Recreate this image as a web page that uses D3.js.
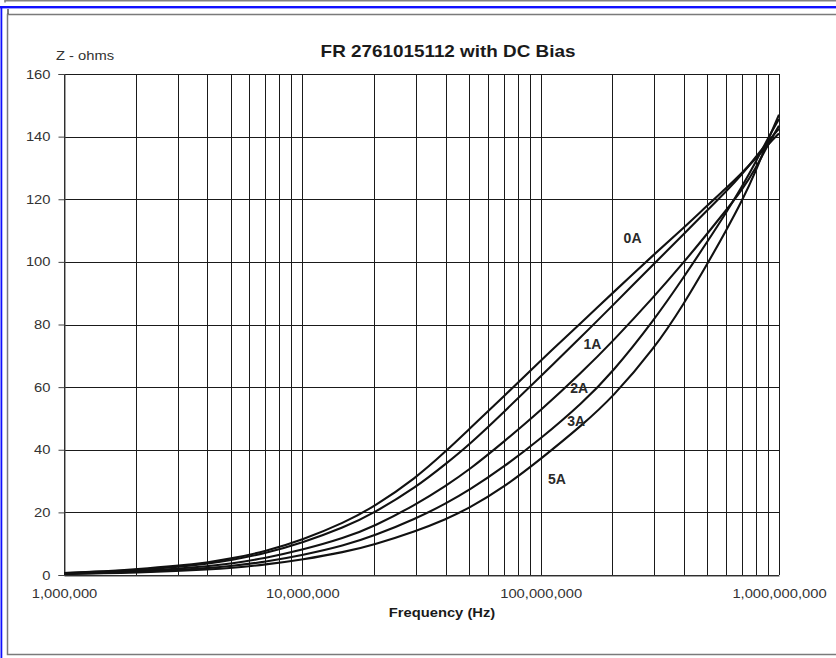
<!DOCTYPE html>
<html>
<head>
<meta charset="utf-8">
<script src="https://cdn.jsdelivr.net/npm/d3@7"></script>
<style>
  body { margin: 0; background: #fff; }
  text { font-family: "Liberation Sans", Arial, sans-serif; }
</style>
</head>
<body>
<div id="chart"></div>
<script>
// frequencies (Hz) the curves were read at
const freqs = [1e6, 1.5e6, 2e6, 3e6, 4e6, 5e6, 7e6, 1e7, 1.5e7, 2e7, 3e7, 4e7, 5e7, 7e7,
               1e8, 1.5e8, 2e8, 3e8, 4e8, 5e8, 6e8, 7e8, 8e8, 9e8, 1e9];
// impedance in ohms per DC bias
const z0A = [0.6, 1.2, 1.8, 2.9, 4.0, 5.2, 7.5, 11.2, 16.7, 21.8, 31, 39.5, 46.5, 57,
             68.5, 81, 90, 102.5, 111, 118, 123.5, 128.5, 133, 137.5, 141];
const z1A = [0.6, 1.1, 1.6, 2.6, 3.6, 4.7, 6.9, 10.3, 15.2, 19.8, 28, 35.5, 41.5, 52,
             63.5, 76.5, 86, 99.5, 109, 116.5, 122.5, 128, 133.5, 138.5, 142.5];
const z2A = [0.5, 0.9, 1.3, 2.0, 2.8, 3.6, 5.4, 8, 11.8, 15.5, 22.5, 28.5, 33.5, 42.5,
             52.5, 65, 74.5, 89, 100, 109, 116.5, 123, 130, 137.5, 143.5];
const z3A = [0.4, 0.7, 1.0, 1.6, 2.2, 2.8, 4.2, 6.3, 9.4, 12.5, 18, 22.8, 27, 34.5,
             43.5, 55, 64.7, 81.5, 95.3, 106.4, 115.7, 124.1, 131.9, 139.6, 145.6];
const z5A = [0.3, 0.55, 0.8, 1.3, 1.75, 2.2, 3.3, 4.9, 7.3, 9.7, 14, 17.8, 21.3, 28,
             37, 48, 56.7, 72.3, 86.7, 99.3, 110, 119.5, 129, 139, 147];
const seriesNames = ["0A", "1A", "2A", "3A", "5A"];
// where each curve name is written (freq, ohms)
const labelFreq = [2.43e8, 1.65e8, 1.45e8, 1.41e8, 1.17e8];
const labelZ = [107.5, 73.8, 59.6, 49.3, 30.7];
const yTicks = [0, 20, 40, 60, 80, 100, 120, 140, 160];
const xLabelTicks = [1e6, 1e7, 1e8, 1e9];

const W = 836, H = 658;
const SX = 1.18; // source picture is a bit stretched sideways

const svg = d3.select("#chart").append("svg")
    .attr("width", W).attr("height", H);

// window frame bits
svg.append("path").attr("d", "M5,2.5V0.8H836").attr("fill", "none")
    .attr("stroke", "#808080").attr("stroke-width", 1.6);
svg.append("rect").attr("x", 0).attr("y", 6).attr("width", W).attr("height", 2.4).attr("fill", "#1010ff");
svg.append("rect").attr("x", 0.5).attr("y", 6).attr("width", 1.8).attr("height", H).attr("fill", "#1010ff");
svg.append("rect").attr("x", 7.5).attr("y", 14.5).attr("width", 840).attr("height", 640)
    .attr("fill", "none").attr("stroke", "#7a7a7a").attr("stroke-width", 1.5);
svg.append("line").attr("x1", 8).attr("x2", 8).attr("y1", 9).attr("y2", 14)
    .attr("stroke", "#000").attr("stroke-width", 1);

const x = d3.scaleLog().domain([1e6, 1e9]).range([64, 779]);
const y = d3.scaleLinear().domain([0, 160]).range([575, 74]);

function stretch(sel) {
    sel.each(function () {
        const t = d3.select(this);
        const tx = +t.attr("x") || 0, ty = +t.attr("y") || 0;
        t.attr("x", 0).attr("y", 0)
         .attr("transform", `translate(${tx},${ty}) scale(${SX},1)`);
    });
}

// grid
const grid = svg.append("g").attr("stroke", "#1a1a1a").attr("stroke-width", 1).attr("shape-rendering", "crispEdges");
const minor = [];
for (let d = 1e6; d < 1e9; d *= 10) for (let k = 1; k < 10; k++) minor.push(d * k);
minor.push(1e9);
grid.selectAll(".v").data(minor).enter().append("line")
    .attr("x1", d => Math.round(x(d)) + 0.5).attr("x2", d => Math.round(x(d)) + 0.5)
    .attr("y1", y(160)).attr("y2", y(0));
grid.selectAll(".h").data(yTicks).enter().append("line")
    .attr("x1", x(1e6)).attr("x2", x(1e9))
    .attr("y1", d => Math.round(y(d)) + 0.5).attr("y2", d => Math.round(y(d)) + 0.5);

// y axis
const yAxis = svg.append("g").attr("transform", "translate(64.5,0)")
    .call(d3.axisLeft(y).tickValues(yTicks).tickSize(6).tickPadding(8));
yAxis.select(".domain").attr("stroke", "#444");
yAxis.selectAll(".tick line").attr("stroke", "#444");
yAxis.selectAll("text").attr("font-size", "12.5px").attr("fill", "#333")
    .attr("font-family", "'Liberation Sans', Arial, sans-serif").call(stretch);

// x axis
const xAxis = svg.append("g").attr("transform", "translate(0,575.5)")
    .call(d3.axisBottom(x).tickValues(xLabelTicks).tickFormat(d3.format(",")).tickSize(0).tickPadding(14));
xAxis.select(".domain").attr("stroke", "#444");
xAxis.selectAll("text").attr("font-size", "12.5px").attr("fill", "#333")
    .attr("font-family", "'Liberation Sans', Arial, sans-serif").call(stretch);

// curves (basis spline smooths out reading noise)
const allZ = [z0A, z1A, z2A, z3A, z5A];
const line = d3.line()
    .x((d, i) => x(freqs[i]))
    .y(d => y(d))
    .curve(d3.curveBasis);
svg.append("g").selectAll("path").data(allZ).enter().append("path")
    .attr("d", line).attr("fill", "none").attr("stroke", "#111").attr("stroke-width", 2.1);

// curve names
svg.append("g").selectAll("text").data(seriesNames).enter().append("text")
    .attr("x", (d, i) => x(labelFreq[i])).attr("y", (d, i) => y(labelZ[i]))
    .attr("dy", "0.36em").attr("text-anchor", "middle")
    .attr("font-size", "14px").attr("font-weight", "bold").attr("fill", "#2a2a2a")
    .text(d => d);

// titles
svg.append("text").attr("x", 448).attr("y", 57).attr("text-anchor", "middle")
    .attr("font-size", "16px").attr("font-weight", "bold").attr("fill", "#1a1a1a")
    .text("FR 2761015112 with DC Bias").call(stretch);
svg.append("text").attr("x", 56).attr("y", 60)
    .attr("font-size", "12.5px").attr("fill", "#333")
    .text("Z - ohms").call(stretch);
svg.append("text").attr("x", 442).attr("y", 617).attr("text-anchor", "middle")
    .attr("font-size", "12.5px").attr("font-weight", "bold").attr("fill", "#1a1a1a")
    .text("Frequency (Hz)").call(stretch);
</script>
</body>
</html>
